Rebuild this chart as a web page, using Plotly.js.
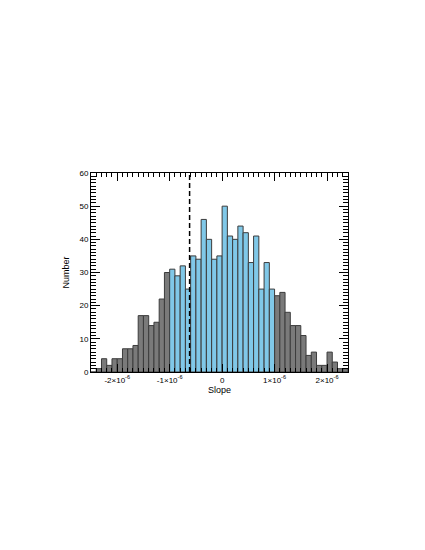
<!DOCTYPE html>
<html>
<head>
    <script src="https://cdn.plot.ly/plotly-3.0.1.min.js"></script>
    <style>
        body { margin: 0; background: #fff; }
        #chart { width: 425px; height: 550px; }
    </style>
</head>
<body>
    <div id="chart"></div>
    <script>
        // histogram bins of slope, width 1e-7, first bin starts at -2.5e-6
        const binStart = -2.5e-6;
        const binWidth = 1e-7;
        const counts = [
            0, 1, 4, 2, 4, 4, 7, 7, 8, 17,
            17, 14, 15, 22, 30, 31, 29, 32, 25, 35,
            34, 46, 40, 34, 35, 50, 41, 40, 44, 42,
            33, 41, 25, 33, 25, 23, 24, 18, 14, 14,
            11, 5, 6, 2, 2, 6, 3, 1, 1
        ];
        const highlightLimit = 1e-6;   // bins with |slope| < this are blue
        const thresholdSlope = -0.62e-6; // dashed line

        const tickVals = [-2e-6, -1e-6, 0, 1e-6, 2e-6];
        const tickText = ["-2×10<sup>-6</sup>", "-1×10<sup>-6</sup>", "0", "1×10<sup>-6</sup>", "2×10<sup>-6</sup>"];

        const centers = counts.map((_, i) => binStart + (i + 0.5) * binWidth);
        const inner = centers.map(c => Math.abs(c) < highlightLimit);

        function pick(flag) {
            return {
                x: centers.filter((_, i) => inner[i] === flag),
                y: counts.filter((_, i) => inner[i] === flag)
            };
        }

        const grey = pick(false);
        const blue = pick(true);

        const barLine = { color: "#3c3c3c", width: 1 };

        const traces = [
            {
                type: "bar", x: grey.x, y: grey.y, width: binWidth,
                marker: { color: "#7a7a7a", line: barLine },
                hoverinfo: "x+y"
            },
            {
                type: "bar", x: blue.x, y: blue.y, width: binWidth,
                marker: { color: "#80c8e8", line: barLine },
                hoverinfo: "x+y"
            }
        ];

        const tickFont = { family: "Liberation Sans, Arial, sans-serif", size: 8, color: "#000" };

        const layout = {
            width: 425,
            height: 550,
            margin: { l: 91, r: 77, t: 173, b: 178 },
            paper_bgcolor: "#fff",
            plot_bgcolor: "#fff",
            showlegend: false,
            bargap: 0,
            barmode: "overlay",
            font: tickFont,
            xaxis: {
                range: [-2.5e-6, 2.4e-6],
                tickmode: "array",
                tickvals: tickVals,
                ticktext: tickText,
                ticks: "inside",
                ticklen: 8,
                tickcolor: "#000",
                tickwidth: 1,
                minor: { ticks: "inside", dtick: 1e-7, ticklen: 4, tickcolor: "#000", tickwidth: 1 },
                showline: true,
                linecolor: "#000",
                linewidth: 1,
                mirror: "allticks",
                showgrid: false,
                zeroline: false,
                tickfont: tickFont,
                title: { text: "Slope", font: { family: "Liberation Sans, Arial, sans-serif", size: 9, color: "#000" }, standoff: 2 }
            },
            yaxis: {
                range: [0, 60],
                dtick: 10,
                ticks: "inside",
                ticklen: 9,
                tickcolor: "#000",
                tickwidth: 1,
                minor: { ticks: "inside", dtick: 1, ticklen: 5, tickcolor: "#000", tickwidth: 1 },
                showline: true,
                linecolor: "#000",
                linewidth: 1,
                mirror: "allticks",
                showgrid: false,
                zeroline: false,
                tickfont: tickFont,
                title: { text: "Number", font: { family: "Liberation Sans, Arial, sans-serif", size: 9, color: "#000" }, standoff: 8 }
            },
            shapes: [
                {
                    type: "line", xref: "x", yref: "paper",
                    x0: thresholdSlope, x1: thresholdSlope, y0: 0, y1: 1,
                    line: { color: "#000", width: 1.5, dash: "5px,3px" }
                }
            ]
        };

        Plotly.newPlot("chart", traces, layout, { displayModeBar: false, staticPlot: true });
    </script>
</body>
</html>
